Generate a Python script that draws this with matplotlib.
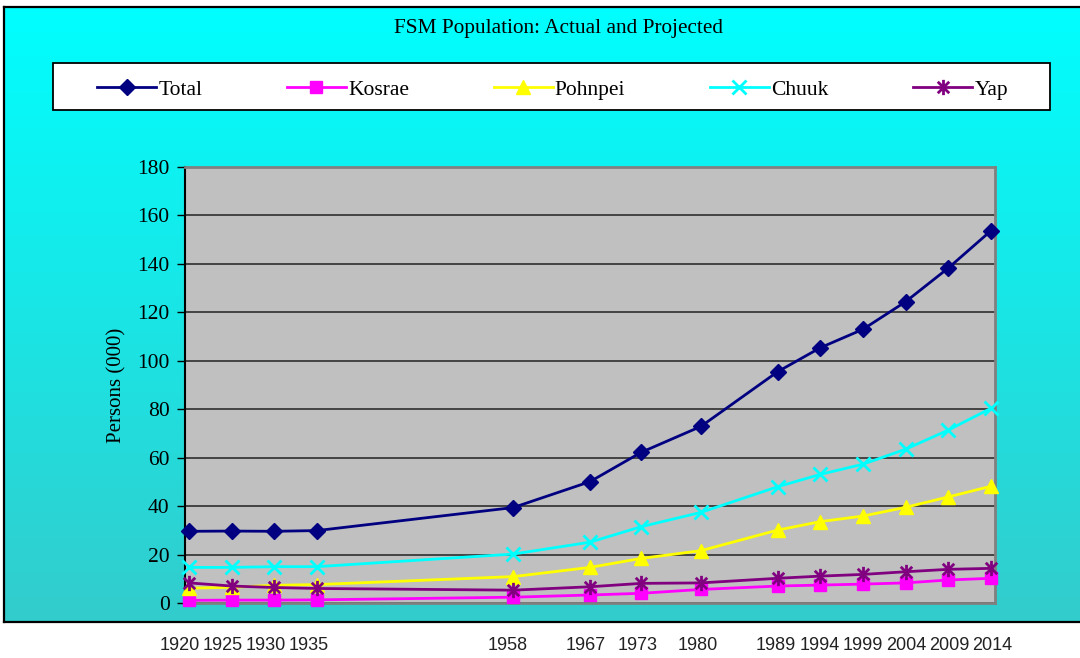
import numpy as np
import matplotlib
matplotlib.use("Agg")
import matplotlib.pyplot as plt
import matplotlib.transforms as mtransforms
from matplotlib.path import Path
from matplotlib.patches import Rectangle
from matplotlib.colors import LinearSegmentedColormap

# ---------------- data ----------------
years = [1920, 1925, 1930, 1935, 1958, 1967, 1973, 1980, 1989, 1994, 1999, 2004, 2009, 2014]
year_labels = [str(y) for y in years]
total   = [29.6, 29.7, 29.6, 29.9, 39.4, 50.1, 62.2, 72.9, 95.5, 105.4, 113.0, 124.4, 138.3, 153.7]
kosrae  = [1.1, 1.2, 1.2, 1.3, 2.4, 3.3, 4.0, 5.6, 7.0, 7.4, 7.8, 8.3, 9.5, 10.2]
pohnpei = [6.1, 6.5, 7.3, 7.6, 10.9, 14.7, 18.4, 21.6, 30.1, 33.6, 35.9, 39.5, 43.8, 48.2]
chuuk   = [14.7, 14.7, 15.0, 15.0, 20.2, 25.1, 31.5, 37.4, 48.0, 53.1, 57.3, 63.5, 71.4, 80.4]
yap     = [8.3, 7.0, 6.4, 6.0, 5.3, 6.7, 8.1, 8.3, 10.2, 11.1, 11.8, 12.9, 13.9, 14.3]
series_names = ["Total", "Kosrae", "Pohnpei", "Chuuk", "Yap"]
title = "FSM Population: Actual and Projected"
ylabel = "Persons (000)"

# ---------------- figure ----------------
W, H = 1080, 658
fig = plt.figure(figsize=(W / 100, H / 100), dpi=100)
fig.patch.set_facecolor("white")
serif = "Liberation Serif"

def fx(px):
    return px / W

def fy(py):
    return 1 - py / H

# gradient panel
bg = fig.add_axes([fx(4), fy(622), fx(1095) - fx(4), fy(7) - fy(622)], zorder=0)
cmap = LinearSegmentedColormap.from_list("bg", ["#33CCCC", "#00FFFF"])
grad = np.linspace(0, 1, 256).reshape(-1, 1)
bg.imshow(grad, aspect="auto", cmap=cmap, origin="lower", extent=[0, 1, 0, 1])
bg.set_xticks([]); bg.set_yticks([])
for s in bg.spines.values():
    s.set_color("black"); s.set_linewidth(1.6)

# main axes
ax = fig.add_axes([fx(185), fy(603), fx(995) - fx(185), fy(167) - fy(603)], zorder=2)
ax.set_facecolor("#C0C0C0")

star_path = Path([(0, -1), (0, 1), (-0.75, -0.75), (0.75, 0.75), (-0.75, 0.75), (0.75, -0.75)],
                 [Path.MOVETO, Path.LINETO, Path.MOVETO, Path.LINETO, Path.MOVETO, Path.LINETO])

styles = [
    dict(color="#000080", marker="D", ms=8.5, mfc="#000080", mec="#000080"),
    dict(color="#FF00FF", marker="s", ms=9, mfc="#FF00FF", mec="#FF00FF"),
    dict(color="#FFFF00", marker="^", ms=10.5, mfc="#FFFF00", mec="#FFFF00"),
    dict(color="#00FFFF", marker="x", ms=10, mew=2, mec="#00FFFF"),
    dict(color="#800080", marker=star_path, ms=11, mew=2, mec="#800080"),
]
data = [total, kosrae, pohnpei, chuuk, yap]
lines = []
for name, vals, st in zip(series_names, data, styles):
    ln, = ax.plot(years, vals, lw=2, label=name, clip_on=False, zorder=3, **st)
    lines.append(ln)

ax.set_xlim(1919.53, 2014.47)
ax.set_ylim(0, 180)
ax.set_yticks(np.arange(0, 181, 20))
ax.set_xticks([])
ax.yaxis.grid(True, color="#222222", lw=1.1)
ax.set_axisbelow(True)
ax.tick_params(axis="y", direction="out", length=6, width=1, color="black",
               labelsize=15.5, pad=5)
for lab in ax.get_yticklabels():
    lab.set_fontfamily(serif)
ax.spines["left"].set_color("black"); ax.spines["left"].set_linewidth(1.5)
for k in ["top", "right", "bottom"]:
    ax.spines[k].set_color("#808080"); ax.spines[k].set_linewidth(2)
ax.set_ylabel(ylabel, fontfamily=serif, fontsize=15, labelpad=8)

# title
fig.text(fx(558), fy(28), title, ha="center", va="center", fontfamily=serif, fontsize=15.3, zorder=5)

# legend: white box, then entries spread inside it
fig.patches.append(Rectangle((fx(53), fy(110)), fx(1050) - fx(53), fy(63) - fy(110),
                             transform=fig.transFigure, facecolor="white", edgecolor="black",
                             lw=1.3, zorder=4))
leg = fig.legend(lines, series_names, loc="center", ncol=5, mode="expand",
                 bbox_to_anchor=(fx(97), fy(107), fx(1008) - fx(97), fy(73) - fy(107)),
                 bbox_transform=fig.transFigure, borderaxespad=0, borderpad=0, frameon=False,
                 prop={"family": serif, "size": 15.5}, handlelength=2.75, handletextpad=0.1)
leg.set_zorder(5)

# x labels below the panel (separate scale, like the original)
lab_ax = fig.add_axes([0, 0, 1, 0.001], zorder=1)
lab_ax.set_xlim(1899.26, 2024.15)
lab_ax.axis("off")
tr = mtransforms.blended_transform_factory(lab_ax.transData, fig.transFigure)
for yv, txt in zip(years, year_labels):
    lab_ax.text(yv, fy(645), txt, transform=tr, ha="center", va="center",
                fontfamily="Liberation Sans", fontsize=13.0, color="#222222")

fig.savefig("out.png", dpi=100, facecolor="white")
